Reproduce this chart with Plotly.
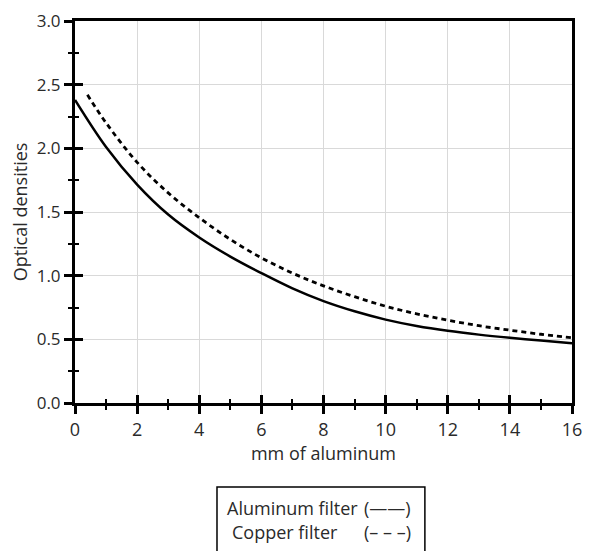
import plotly.graph_objects as go

# Data
al_x = [0, 1, 2, 3, 4, 5, 6, 7, 8, 9, 10, 11, 12, 13, 14, 15, 16]
al_y = [2.38, 2.01, 1.715, 1.48, 1.30, 1.15, 1.02, 0.90, 0.80, 0.72, 0.655, 0.605, 0.567, 0.537, 0.512, 0.49, 0.47]

cu_x = [0.4, 1, 2, 3, 4, 5, 6, 7, 8, 9, 10, 11, 12, 13, 14, 15, 16]
cu_y = [2.42, 2.20, 1.89, 1.65, 1.455, 1.285, 1.14, 1.02, 0.92, 0.835, 0.76, 0.70, 0.65, 0.607, 0.572, 0.54, 0.512]

x_ticks = [0, 2, 4, 6, 8, 10, 12, 14, 16]
y_ticks = [0.0, 0.5, 1.0, 1.5, 2.0, 2.5, 3.0]
y_tick_labels = ["0.0", "0.5", "1.0", "1.5", "2.0", "2.5", "3.0"]

legend_names = ["Aluminum filter", "Copper filter"]
legend_marks = ["(——)", "(– – –)"]

FONT = "Open Sans"

fig = go.Figure()
fig.add_trace(go.Scatter(x=al_x, y=al_y, mode="lines", line=dict(color="black", width=2.5, shape="spline"),
                         showlegend=False, hoverinfo="skip"))
fig.add_trace(go.Scatter(x=cu_x, y=cu_y, mode="lines",
                         line=dict(color="black", width=2.8, dash="5px,4px", shape="spline"),
                         showlegend=False, hoverinfo="skip"))
# invisible trace on the overlay axes (for inside ticks)
fig.add_trace(go.Scatter(x=al_x, y=al_y, mode="lines", line=dict(width=0), opacity=0,
                         xaxis="x2", yaxis="y2", showlegend=False, hoverinfo="skip"))

axis_common = dict(showline=True, linecolor="black", linewidth=3, tickcolor="black", tickwidth=2.5,
                   automargin=False, ticklabeloverflow="allow")

# page body has an 8px default margin, so the figure is offset by 8px
fig.update_layout(
    width=585, height=543,
    margin=dict(l=67, r=21, t=13, b=148),
    paper_bgcolor="white", plot_bgcolor="white",
    font=dict(family=FONT, size=18, color="#2a2a2a"),
    xaxis=dict(range=[0, 16], tickvals=x_ticks, ticks="outside", ticklen=8, mirror=True,
               showgrid=True, gridcolor="#d9d9d9", gridwidth=1, zeroline=False,
               minor=dict(dtick=1, ticks="outside", ticklen=4, tickwidth=2, tickcolor="black", showgrid=False),
               title=dict(text="mm of aluminum", font=dict(size=18), standoff=4),
               **axis_common),
    yaxis=dict(range=[0, 3], tickvals=y_ticks, ticktext=y_tick_labels, ticks="outside", ticklen=8, mirror=True,
               showgrid=True, gridcolor="#d9d9d9", gridwidth=1, zeroline=False,
               tickfont=dict(size=17),
               minor=dict(dtick=0.25, ticks="outside", ticklen=4, tickwidth=2, tickcolor="black", showgrid=False),
               title=dict(text="Optical densities", font=dict(size=18), standoff=6),
               **axis_common),
    xaxis2=dict(range=[0, 16], tickvals=x_ticks, ticks="inside", ticklen=8, overlaying="x", anchor="y2",
                showticklabels=False, showgrid=False, zeroline=False, automargin=False,
                minor=dict(dtick=1, ticks="inside", ticklen=4, tickwidth=2, tickcolor="black"),
                showline=False, tickcolor="black", tickwidth=2.5),
    yaxis2=dict(range=[0, 3], tickvals=y_ticks, ticks="inside", ticklen=8, overlaying="y", anchor="x2",
                showticklabels=False, showgrid=False, zeroline=False, automargin=False,
                minor=dict(dtick=0.25, ticks="inside", ticklen=4, tickwidth=2, tickcolor="black"),
                showline=False, tickcolor="black", tickwidth=2.5),
)

# legend box and text
fig.add_shape(type="rect", xref="paper", yref="paper", x0=0.2857, x1=0.704, y0=-0.42, y1=-0.22,
              line=dict(color="black", width=1.5), fillcolor="rgba(0,0,0,0)")
name_x = [0.302, 0.312]
name_y = [-0.275, -0.337]
for i in range(2):
    fig.add_annotation(xref="paper", yref="paper", x=name_x[i], y=name_y[i], text=legend_names[i],
                       showarrow=False, xanchor="left", yanchor="middle", font=dict(size=18, color="#2a2a2a"))
    fig.add_annotation(xref="paper", yref="paper", x=0.578, y=name_y[i], text=legend_marks[i],
                       showarrow=False, xanchor="left", yanchor="middle", font=dict(size=18, color="#2a2a2a"))

fig.write_html("out.html")
